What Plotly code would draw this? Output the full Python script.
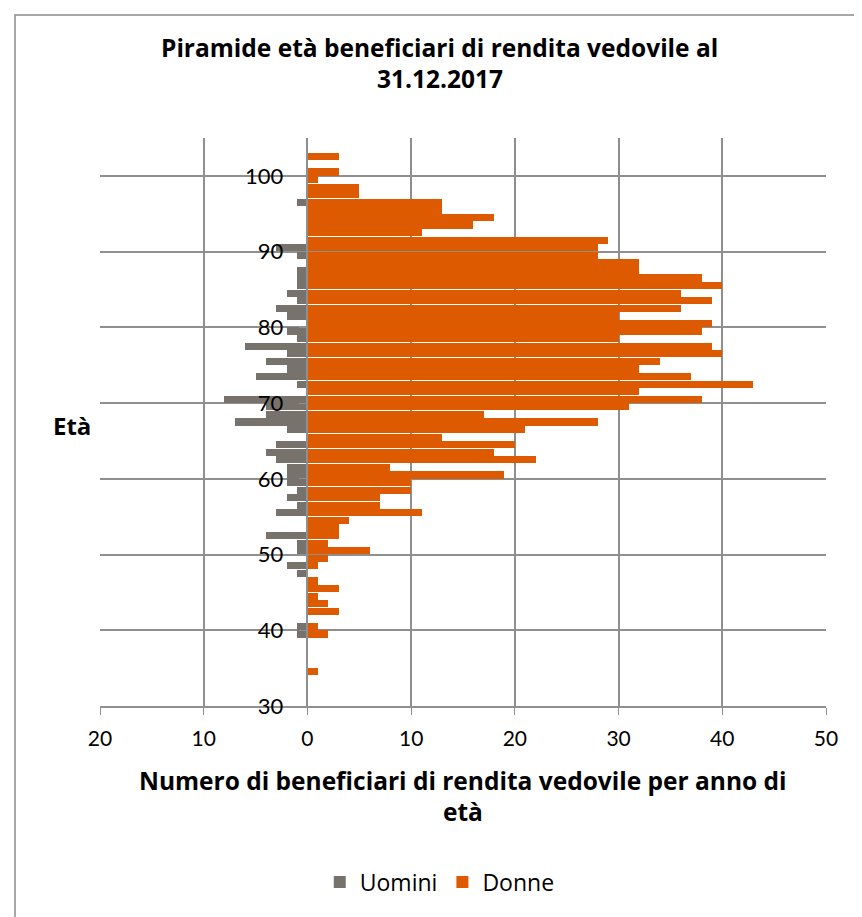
import plotly.graph_objects as go

ages = list(range(34, 103))
# values listed from age 34 up to age 102
donne = [1, 0, 0, 0, 0, 2, 1, 0, 3, 2,   # 34-43
         1, 3, 1, 0, 1, 2, 6, 2, 3, 3,   # 44-53
         4, 11, 7, 7, 10, 10, 19, 8, 22, 18,  # 54-63
         20, 13, 21, 28, 17, 31, 38, 32, 43, 37,  # 64-73
         32, 34, 40, 39, 30, 38, 39, 30, 36, 39,  # 74-83
         36, 40, 38, 32, 32, 28, 28, 29, 11, 16,  # 84-93
         18, 13, 13, 5, 5, 1, 3, 0, 3]            # 94-102
uomini = [0, 0, 0, 0, 0, 1, 1, 0, 0, 0,  # 34-43
          0, 0, 0, 1, 2, 0, 1, 1, 4, 0,  # 44-53
          0, 3, 1, 2, 1, 2, 2, 2, 3, 4,  # 54-63
          3, 0, 2, 7, 4, 4, 8, 0, 1, 5,  # 64-73
          2, 4, 2, 6, 1, 2, 0, 2, 3, 1,  # 74-83
          2, 1, 1, 1, 0, 1, 3, 0, 0, 0,  # 84-93
          0, 0, 1, 0, 0, 0, 0, 0, 0]     # 94-102
uomini_neg = [-v for v in uomini]

x_tickvals = [-20, -10, 0, 10, 20, 30, 40, 50]
x_ticktext = ["20", "10", "0", "10", "20", "30", "40", "50"]
y_tickvals = [30, 40, 50, 60, 70, 80, 90, 100]

TICKFONT = "Lato"
TEXTFONT = "Open Sans"
GRID = "#8f8f8f"

fig = go.Figure()
fig.add_trace(go.Bar(y=ages, x=uomini_neg, orientation="h", name="Uomini",
                     marker=dict(color="#77726b", line=dict(width=0)),
                     width=0.95, offset=0.03))
fig.add_trace(go.Bar(y=ages, x=donne, orientation="h", name="Donne",
                     marker=dict(color="#dd5a00", line=dict(width=0)),
                     width=0.95, offset=0.03))

fig.update_layout(
    width=862, height=917,
    margin=dict(l=92, r=44, t=130, b=219),
    paper_bgcolor="white", plot_bgcolor="white",
    barmode="relative", bargap=0,
    font=dict(family=TICKFONT, size=21, color="black"),
    xaxis=dict(range=[-20, 50], tickvals=x_tickvals, ticktext=x_ticktext,
               showgrid=True, gridcolor=GRID, gridwidth=1.6,
               zeroline=False, showline=True, linecolor=GRID, linewidth=1.6,
               ticks="outside", ticklen=7, tickcolor=GRID,
               ticklabelstandoff=6,
               tickfont=dict(size=21, family=TICKFONT), fixedrange=True),
    yaxis=dict(range=[30, 105], tickvals=y_tickvals,
               showgrid=True, gridcolor=GRID, gridwidth=1.6,
               zeroline=False, showline=True, linecolor=GRID, linewidth=1.6,
               anchor="free", position=(0 - (-20)) / 70,
               ticks="outside", ticklen=8, tickcolor=GRID,
               ticklabelstandoff=11,
               tickfont=dict(size=22, family=TICKFONT), fixedrange=True),
    legend=dict(orientation="h", x=0.468, xanchor="center", y=-0.310, yanchor="middle",
                font=dict(size=23, family=TEXTFONT), itemwidth=30, traceorder="normal"),
    showlegend=True,
)

TF = dict(size=24.5, family=TEXTFONT, color="black")
fig.add_annotation(text="<b>Piramide età beneficiari di rendita vedovile al</b>",
                   xref="paper", yref="paper", x=0.468, y=1.160, showarrow=False,
                   font=TF, xanchor="center", yanchor="middle")
fig.add_annotation(text="<b>31.12.2017</b>",
                   xref="paper", yref="paper", x=0.468, y=1.104, showarrow=False,
                   font=TF, xanchor="center", yanchor="middle")
fig.add_annotation(text="<b>Numero di beneficiari di rendita vedovile per anno di</b>",
                   xref="paper", yref="paper", x=0.5, y=-0.131, showarrow=False,
                   font=TF, xanchor="center", yanchor="middle")
fig.add_annotation(text="<b>età</b>",
                   xref="paper", yref="paper", x=0.5, y=-0.186, showarrow=False,
                   font=TF, xanchor="center", yanchor="middle")
fig.add_annotation(text="<b>Età</b>",
                   xref="paper", yref="paper", x=-0.0386, y=0.494, showarrow=False,
                   font=dict(size=24, family=TEXTFONT, color="black"),
                   xanchor="center", yanchor="middle")

# chart-area border
fig.add_shape(type="rect", xref="paper", yref="paper",
              x0=(15 - 100) / 726, x1=1.3, y0=-0.6, y1=(705.7 - 15) / 567.7,
              line=dict(color="#8a8a8a", width=1.5), fillcolor="rgba(0,0,0,0)", layer="below")

fig.write_html("out.html")
